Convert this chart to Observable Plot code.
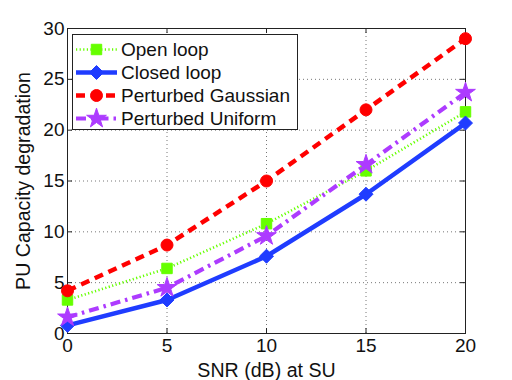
<!DOCTYPE html>
<html><head><meta charset="utf-8">
<script src="https://cdn.jsdelivr.net/npm/d3@7"></script>
<script src="https://cdn.jsdelivr.net/npm/@observablehq/plot@0.6"></script>
<style>
body{margin:0;background:#fff;} #chart{width:512px;height:380px}
#chart svg text { font-size: 19px; }
#chart svg g[aria-label="x-axis label"] text, #chart svg g[aria-label="y-axis label"] text { font-size: 19.6px; }
</style>
</head><body><div id="chart"></div>
<script>
// Data
const snr = [0, 5, 10, 15, 20];
const openLoop = [3.3, 6.4, 10.8, 16.0, 21.8];
const closedLoop = [0.8, 3.3, 7.6, 13.7, 20.7];
const gaussian = [4.2, 8.7, 15.0, 22.0, 29.0];
const uniform = [1.6, 4.5, 9.6, 16.6, 23.7];
const seriesNames = ["Open loop", "Closed loop", "Perturbed Gaussian", "Perturbed Uniform"];
const xTicks = [0, 5, 10, 15, 20];
const yTicks = [0, 5, 10, 15, 20, 25, 30];
const xLabel = "SNR (dB) at SU";
const yLabel = "PU Capacity degradation";

const styles = [
  {color: "#66ff00", width: 2.6, dash: "1.2,2.4", symbol: "square", r: 5.9},
  {color: "#1f3cff", width: 4.5, dash: null, symbol: "diamond2", r: 6.3},
  {color: "#ff0000", width: 4.5, dash: "9,6", symbol: "circle", r: 6},
  {color: "#ad3bff", width: 4.2, dash: "10,5,2.5,5", symbol: "star", r: 6.2}
];
const values = [openLoop, closedLoop, gaussian, uniform];
const series = seriesNames.map((name, i) => snr.map((x, j) => ({x, y: values[i][j], name})));

const W = 512, H = 380, mL = 67, mR = 47, mT = 28, mB = 47;
const pw = W - mL - mR, ph = H - mT - mB;
const FONT = "'Liberation Sans', Arial, sans-serif";

const marks = [
  Plot.gridX(xTicks, {stroke: "#777", strokeOpacity: 1, strokeDasharray: "1,3", strokeWidth: 1}),
  Plot.gridY(yTicks, {stroke: "#777", strokeOpacity: 1, strokeDasharray: "1,3", strokeWidth: 1}),
  Plot.frame({stroke: "#222", strokeWidth: 1}),
  Plot.tickX(xTicks, {x: d => d, stroke: "#222", insetTop: ph - 5}),
  Plot.tickX(xTicks, {x: d => d, stroke: "#222", insetBottom: ph - 5}),
  Plot.tickY(yTicks, {y: d => d, stroke: "#222", insetRight: pw - 5}),
  Plot.tickY(yTicks, {y: d => d, stroke: "#222", insetLeft: pw - 5}),
  Plot.axisX({ticks: xTicks, tickSize: 0, tickPadding: 5, label: xLabel, labelAnchor: "center", labelOffset: 43, labelArrow: "none"}),
  Plot.axisY({ticks: yTicks, tickSize: 0, tickPadding: 3, label: yLabel, labelAnchor: "center", labelOffset: 51, labelArrow: "none"})
];
series.forEach((d, i) => {
  const s = styles[i];
  marks.push(Plot.line(d, {x: "x", y: "y", stroke: s.color, strokeWidth: s.width, strokeDasharray: s.dash, strokeLinecap: "butt", strokeLinejoin: "miter"}));
  marks.push(Plot.dot(d, {x: "x", y: "y", symbol: () => s.symbol, r: s.r, fill: s.color, stroke: s.color, strokeWidth: 1}));
});

const svg = Plot.plot({
  width: W, height: H,
  marginLeft: mL, marginRight: mR, marginTop: mT, marginBottom: mB,
  x: {domain: [0, 20]},
  y: {domain: [0, 30]},
  style: {fontFamily: FONT, fontSize: "19px", color: "#111", background: "#fff"},
  marks
});
document.getElementById("chart").appendChild(svg);

// Legend (MATLAB style box, top-left inside axes)
const lg = d3.select(svg).append("g").attr("font-family", FONT).attr("text-anchor", "start");
lg.append("rect").attr("x", 72.5).attr("y", 34.5).attr("width", 225).attr("height", 95)
  .attr("fill", "#fff").attr("stroke", "#222").attr("stroke-width", 1);
const symMap = {square: d3.symbolSquare, diamond2: d3.symbolDiamond2, circle: d3.symbolCircle, star: d3.symbolStar};
seriesNames.forEach((name, i) => {
  const s = styles[i];
  const cy = 49.5 + i * 23;
  lg.append("line").attr("x1", 76).attr("x2", 117).attr("y1", cy).attr("y2", cy)
    .attr("stroke", s.color).attr("stroke-width", s.width).attr("stroke-dasharray", s.dash);
  lg.append("path").attr("d", d3.symbol(symMap[s.symbol], Math.PI * s.r * s.r)())
    .attr("transform", `translate(96.5,${cy})`).attr("fill", s.color).attr("stroke", s.color);
  lg.append("text").attr("x", 121).attr("y", cy).attr("dy", "0.36em").attr("fill", "#111").attr("text-anchor", "start").text(name);
});
</script>
</body></html>
